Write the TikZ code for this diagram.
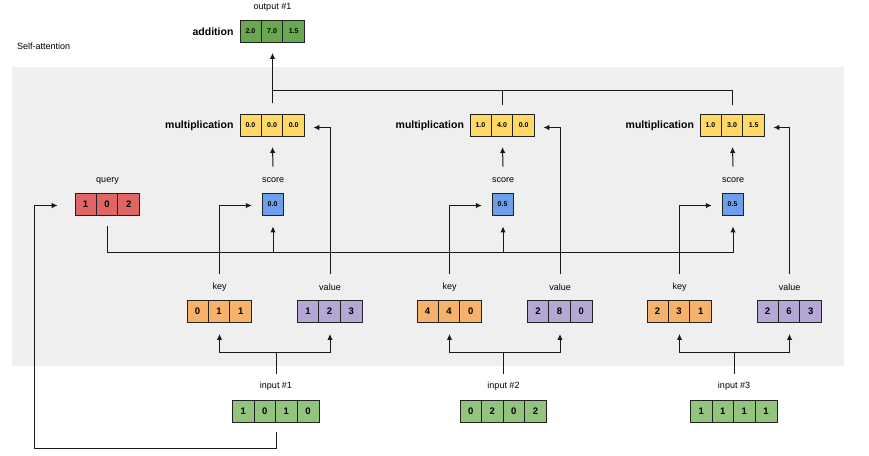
\documentclass[tikz,border=0pt]{standalone}
\usepackage{fontspec}
\setmainfont{Liberation Sans}
\usetikzlibrary{arrows.meta,calc}
\definecolor{bggray}{HTML}{EFEFEF}
\definecolor{outgreen}{HTML}{6AA84F}
\definecolor{multyellow}{HTML}{FFD966}
\definecolor{scoreblue}{HTML}{6D9EEB}
\definecolor{queryred}{HTML}{E06666}
\definecolor{keyorange}{HTML}{F6B26B}
\definecolor{valpurple}{HTML}{B4A7D6}
\definecolor{ingreen}{HTML}{93C47D}
\definecolor{edge}{HTML}{222222}
\def\cw{21.6}
\tikzset{
  vbox/.style={draw=edge, line width=0.9pt, minimum height=22pt, inner sep=0pt, rectangle},
  lab/.style={font=\fontsize{9}{10}\selectfont, inner sep=0pt},
  opname/.style={font=\bfseries\fontsize{10.5}{12}\selectfont, inner sep=0pt, anchor=east},
  conn/.style={draw=black!90, line width=1pt},
  arr/.style={conn, -{Latex[length=6pt,width=5.5pt]}},
  numbig/.style={font=\bfseries\fontsize{9.5}{11}\selectfont, inner sep=0pt},
  numsmall/.style={font=\bfseries\fontsize{7}{8}\selectfont, inner sep=0pt}
}
% #1 name, #2 position, #3 cells, #4 fill, #5 number style, #6 values
\newcommand{\vecbox}[6]{%
  \node[vbox, fill=#4, minimum width=#3*\cw] (#1) at #2 {};
  \foreach \v [count=\i] in {#6} {
    \node[#5] at ($(#1.west)+({(\i-0.5)*\cw},0)$) {\v};
    \ifnum\i<#3
      \draw[draw=edge, line width=0.9pt] ($(#1.south west)+(\i*\cw,0)$) -- ($(#1.north west)+(\i*\cw,0)$);
    \fi
  }
}
\begin{document}
\begin{tikzpicture}[x=1pt,y=-1pt]
\useasboundingbox (0,0) rectangle (869,455);
\fill[bggray] (12,67) rectangle (844,366);
\node[lab, anchor=west] (title) at (17,46) {Self-attention};

% boxes
\vecbox{add}{(272.5,31.5)}{3}{outgreen}{numsmall}{2.0,7.0,1.5}
\vecbox{m1}{(272.5,125.5)}{3}{multyellow}{numsmall}{0.0,0.0,0.0}
\vecbox{m2}{(502.5,125.5)}{3}{multyellow}{numsmall}{1.0,4.0,0.0}
\vecbox{m3}{(732.5,125.5)}{3}{multyellow}{numsmall}{1.0,3.0,1.5}
\vecbox{q}{(107.5,204)}{3}{queryred}{numbig}{1,0,2}
\vecbox{s1}{(273,204)}{1}{scoreblue}{numsmall}{0.0}
\vecbox{s2}{(503,204)}{1}{scoreblue}{numsmall}{0.5}
\vecbox{s3}{(733,204)}{1}{scoreblue}{numsmall}{0.5}
\vecbox{k1}{(219.5,311.5)}{3}{keyorange}{numbig}{0,1,1}
\vecbox{v1}{(330,311.5)}{3}{valpurple}{numbig}{1,2,3}
\vecbox{k2}{(449.5,311.5)}{3}{keyorange}{numbig}{4,4,0}
\vecbox{v2}{(560,311.5)}{3}{valpurple}{numbig}{2,8,0}
\vecbox{k3}{(679.5,311.5)}{3}{keyorange}{numbig}{2,3,1}
\vecbox{v3}{(789.5,311.5)}{3}{valpurple}{numbig}{2,6,3}
\vecbox{i1}{(276,411)}{4}{ingreen}{numbig}{1,0,1,0}
\vecbox{i2}{(503.5,411)}{4}{ingreen}{numbig}{0,2,0,2}
\vecbox{i3}{(734,411)}{4}{ingreen}{numbig}{1,1,1,1}

% labels
\node[lab] (addlab) at ($(add.north)+(0,-13)$) {output \#1};
\node[opname] (addname) at ($(add.west)+(-6,0)$) {addition};
\node[opname] (m1name) at ($(m1.west)+(-6,0)$) {multiplication};
\node[opname] (m2name) at ($(m2.west)+(-5.5,0)$) {multiplication};
\node[opname] (m3name) at ($(m3.west)+(-5.5,0)$) {multiplication};
\node[lab] (qlab) at ($(q.north)+(0,-12)$) {query};
\node[lab] (s1lab) at ($(s1.north)+(0,-12)$) {score};
\node[lab] (s2lab) at ($(s2.north)+(0,-12)$) {score};
\node[lab] (s3lab) at ($(s3.north)+(0,-12)$) {score};
\node[lab] (k1lab) at ($(k1.north)+(0,-13)$) {key};
\node[lab] (v1lab) at ($(v1.north)+(0,-13)$) {value};
\node[lab] (k2lab) at ($(k2.north)+(0,-13)$) {key};
\node[lab] (v2lab) at ($(v2.north)+(0,-13)$) {value};
\node[lab] (k3lab) at ($(k3.north)+(0,-13)$) {key};
\node[lab] (v3lab) at ($(v3.north)+(0,-13)$) {value};
\node[lab] (i1lab) at ($(i1.north)+(0,-13)$) {input \#1};
\node[lab] (i2lab) at ($(i2.north)+(0,-13)$) {input \#2};
\node[lab] (i3lab) at ($(i3.north)+(0,-13)$) {input \#3};

% multiplication -> addition
\draw[arr] ($(m1.north)+(0,-11)$) -- ($(add.south)+(0,10)$);
\draw[conn] ($(m3.north)+(0,-9)$) |- ($(m1.north)+(0,-24)$);
\draw[conn] ($(m2.north)+(0,-9)$) -- ($(m2.north)+(0,-24)$);

% score -> multiplication, key -> score, value -> multiplication, input -> key/value
\foreach \n in {1,2,3} {
  \draw[arr] ($(s\n.north)+(0,-26)$) -- ($(m\n.south)+(0,10)$);
  \draw[arr] ($(k\n.north)+(0,-26)$) |- ($(s\n.west)+(-10,1.5)$);
  \draw[arr] ($(v\n.north)+(0,-26)$) |- ($(m\n.east)+(8,2)$);
  \draw[conn] ($(i\n.north)+(0,-26)$) -- ($(i\n.north)+(0,-47)$);
  \draw[arr] ($(i\n.north)+(0,-47)$) -| ($(k\n.south)+(0,11)$);
  \draw[arr] ($(i\n.north)+(0,-47)$) -| ($(v\n.south)+(0,11)$);
}

% query -> scores
\draw[arr] ($(q.south)+(0,11)$) |- ($(s3.south)+(0,37)$) -- ($(s3.south)+(0,11)$);
\draw[arr] ($(s1.south)+(0,37)$) -- ($(s1.south)+(0,11)$);
\draw[arr] ($(s2.south)+(0,37)$) -- ($(s2.south)+(0,11)$);

% input #1 -> query
\draw[arr] ($(i1.south)+(0,10)$) -- ($(i1.south)+(0,26)$) -| ($(q.west)+(-40,1.5)$) -- ($(q.west)+(-17,1.5)$);
\end{tikzpicture}
\end{document}
